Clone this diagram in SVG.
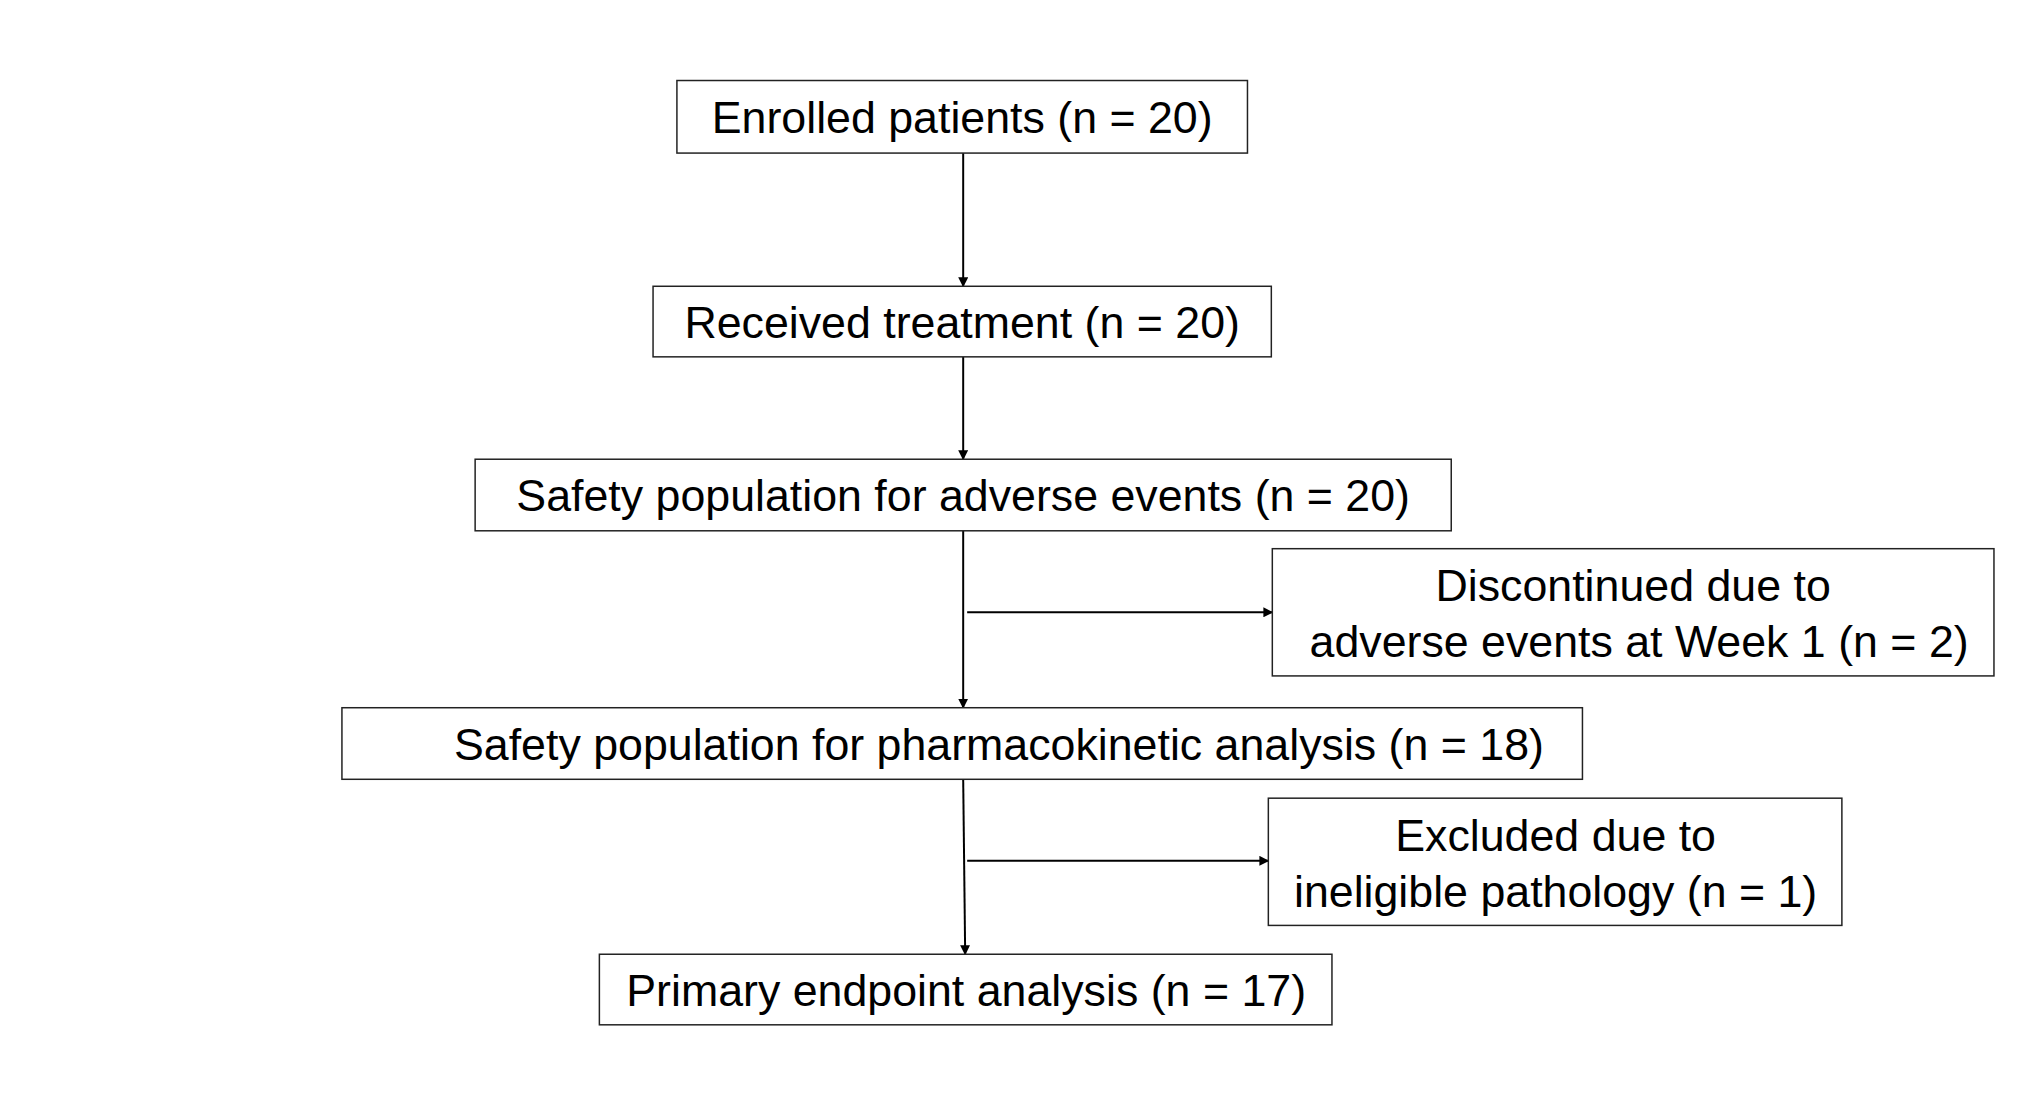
<svg xmlns="http://www.w3.org/2000/svg" width="2031" height="1117" viewBox="0 0 2031 1117">
<style>
rect{fill:#fff;stroke:#222;stroke-width:1.5}
text{font-family:"Liberation Sans",Arial,sans-serif;font-size:45px;fill:#000;text-anchor:middle}
.c{stroke:#000;stroke-width:2;fill:none;marker-end:url(#a)}
</style>
<defs><marker id="a" markerWidth="10" markerHeight="10" refX="9" refY="5" orient="auto" markerUnits="userSpaceOnUse"><path d="M0,0 L10,5 L0,10 z" fill="#000"/></marker></defs>
<rect width="2031" height="1117" style="fill:#fff;stroke:none"/>
<g transform="scale(0.994)">
<g id="connectors">
<line class="c" x1="969" y1="154" x2="969" y2="288"/>
<line class="c" x1="969" y1="359" x2="969" y2="462"/>
<line class="c" x1="969" y1="534" x2="969" y2="712"/>
<line class="c" x1="973" y1="616" x2="1280" y2="616"/>
<line class="c" x1="969" y1="784" x2="971" y2="960"/>
<line class="c" x1="973" y1="866" x2="1276" y2="866"/>
</g>
<g id="n1"><rect x="681" y="81" width="574" height="73"/><text x="968" y="134">Enrolled patients (n = 20)</text></g>
<g id="n2"><rect x="657" y="288" width="622" height="71"/><text x="968" y="340">Received treatment (n = 20)</text></g>
<g id="n3"><rect x="478" y="462" width="982" height="72"/><text x="969" y="514">Safety population for adverse events (n = 20)</text></g>
<g id="n4"><rect x="1280" y="552" width="726" height="128"/><text x="1643" y="605">Discontinued due to</text><text x="1649" y="661">adverse events at Week 1 (n = 2)</text></g>
<g id="n5"><rect x="344" y="712" width="1248" height="72"/><text x="1005" y="765">Safety population for pharmacokinetic analysis (n = 18)</text></g>
<g id="n6"><rect x="1276" y="803" width="577" height="128"/><text x="1565" y="856">Excluded due to</text><text x="1565" y="912">ineligible pathology (n = 1)</text></g>
<g id="n7"><rect x="603" y="960" width="737" height="71"/><text x="972" y="1012">Primary endpoint analysis (n = 17)</text></g>
</g>
</svg>
